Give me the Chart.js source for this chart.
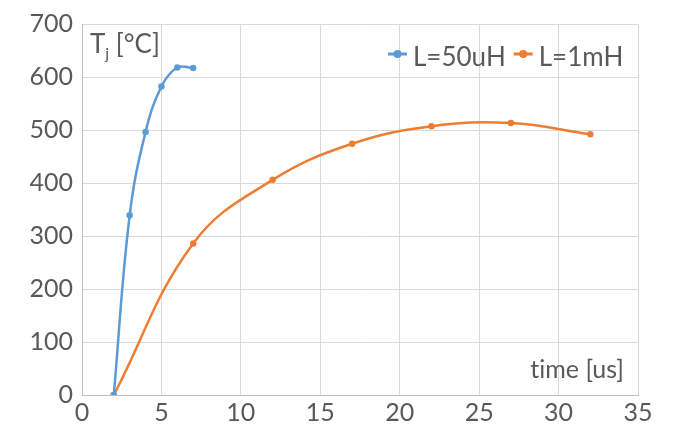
<!DOCTYPE html>
<html>
<head>
<meta charset="utf-8">
<script src="https://cdn.jsdelivr.net/npm/chart.js@4/dist/chart.umd.min.js"></script>
<style>
  body { margin: 0; background: #fff; }
</style>
</head>
<body>
<canvas id="graficoTj" width="691" height="446"></canvas>
<script>
// valores
const timeL50 = [2, 3, 4, 5, 6, 7];
const tjL50 = [0, 339, 496, 582, 618, 617];
const timeL1m = [2, 7, 12, 17, 22, 27, 32];
const tjL1m = [0, 286, 406, 474, 507, 513, 492];
const seriesLabels = ['L=50uH', 'L=1mH'];
const yTitle = ['T', 'j', ' [°C]'];
const xTitle = 't\u200Cime [us]';

const cinza = '#595959';
const fonte = 'Lato, "Open Sans", sans-serif';

const toPoints = (xs, ys) => xs.map((x, i) => ({ x: x, y: ys[i] }));

const textos = {
  id: 'textos',
  afterDraw(chart) {
    const ctx = chart.ctx;
    ctx.save();
    ctx.fillStyle = cinza;
    ctx.textBaseline = 'alphabetic';
    ctx.textAlign = 'left';

    // título do eixo y com subscrito
    let x = 90;
    ctx.font = '26px ' + fonte;
    ctx.fillText(yTitle[0], x, 53);
    x += ctx.measureText(yTitle[0]).width;
    ctx.font = '16px ' + fonte;
    ctx.fillText(yTitle[1], x, 59);
    x += ctx.measureText(yTitle[1]).width;
    ctx.font = '26px ' + fonte;
    ctx.fillText(yTitle[2], x, 53);

    // título do eixo x
    ctx.font = '25px ' + fonte;
    ctx.textAlign = 'right';
    ctx.fillText(xTitle, 624, 378);

    // legenda
    ctx.textAlign = 'left';
    ctx.font = '26px ' + fonte;
    let lx = 388;
    chart.data.datasets.forEach(ds => {
      ctx.strokeStyle = ds.borderColor;
      ctx.fillStyle = ds.borderColor;
      ctx.lineWidth = 3;
      ctx.beginPath();
      ctx.moveTo(lx, 54);
      ctx.lineTo(lx + 19, 54);
      ctx.stroke();
      ctx.beginPath();
      ctx.arc(lx + 9.5, 54, 4, 0, Math.PI * 2);
      ctx.fill();
      ctx.fillStyle = cinza;
      ctx.fillText(ds.label, lx + 25, 66);
      lx += 25 + ctx.measureText(ds.label).width + 8;
    });
    ctx.restore();
  }
};

const ctx = document.getElementById('graficoTj').getContext('2d');
const chart = new Chart(ctx, {
  type: 'line',
  data: {
    datasets: [
      {
        label: seriesLabels[0],
        data: toPoints(timeL50, tjL50),
        borderColor: '#5b9bd5',
        backgroundColor: '#5b9bd5',
        borderWidth: 2.5,
        pointRadius: 2,
        tension: 0.4
      },
      {
        label: seriesLabels[1],
        data: toPoints(timeL1m, tjL1m),
        borderColor: '#ed7d31',
        backgroundColor: '#ed7d31',
        borderWidth: 2.5,
        pointRadius: 2,
        tension: 0.4
      }
    ]
  },
  options: {
    responsive: false,
    animation: false,
    layout: { padding: { left: 0, right: 53, top: 23, bottom: 0 } },
    plugins: {
      legend: { display: false },
      tooltip: { enabled: false }
    },
    scales: {
      x: {
        type: 'linear',
        min: 0,
        max: 35,
        afterFit: s => { s.height = 51; },
        ticks: { stepSize: 5, color: cinza, font: { family: fonte, size: 25 }, padding: 3, maxRotation: 0 },
        grid: { color: '#d9d9d9', drawTicks: false },
        border: { color: '#bfbfbf' }
      },
      y: {
        min: 0,
        max: 700,
        afterFit: s => { s.width = 82; },
        ticks: { stepSize: 100, color: cinza, font: { family: fonte, size: 25 }, padding: 9 },
        grid: { color: '#d9d9d9', drawTicks: false },
        border: { color: '#bfbfbf' }
      }
    }
  },
  plugins: [textos]
});
</script>
</body>
</html>
